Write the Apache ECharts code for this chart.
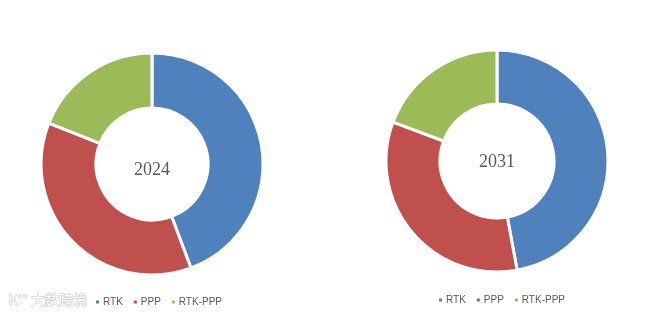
<!DOCTYPE html>
<html>
<head>
<meta charset="utf-8">
<script src="https://cdn.jsdelivr.net/npm/echarts@6/dist/echarts.min.js"></script>
<style>
html,body{margin:0;padding:0;background:#fff;}
#c{width:649px;height:322px;}
</style>
</head>
<body>
<div id="c"></div>
<script>
var categories = ['RTK', 'PPP', 'RTK-PPP'];
var years = ['2024', '2031'];
var values2024 = [44.3, 36.7, 19.0];
var values2031 = [47.1, 33.6, 19.3];
var colors = ['#4F81BD', '#C0504D', '#9BBB59'];

function mk(vals) {
  return categories.map(function (c, i) { return { name: c, value: vals[i] }; });
}

var chart = echarts.init(document.getElementById('c'));
var legendCommon = {
  data: categories,
  icon: 'rect',
  itemWidth: 5,
  itemHeight: 5,
  itemGap: 9,
  selectedMode: false,
  textStyle: { fontSize: 10, color: '#595959', fontFamily: 'Liberation Sans', padding: [0, 0, 0, -2] }
};
chart.setOption({
  animation: false,
  color: colors,
  legend: [
    Object.assign({ left: 89, top: 292 }, legendCommon),
    Object.assign({ left: 432, top: 290 }, legendCommon)
  ],
  graphic: [
    { type: 'text', left: 8, top: 292, style: { text: 'K°° 大数跨境', fontSize: 14, fill: '#fff', stroke: '#c8c8c8', lineWidth: 1, fontFamily: 'Noto Sans CJK SC' } },
    { type: 'text', x: 152, y: 170, style: { text: years[0], fontSize: 18, fill: '#595959', fontFamily: 'Liberation Serif', align: 'center', verticalAlign: 'middle' } },
    { type: 'text', x: 497, y: 162, style: { text: years[1], fontSize: 18, fill: '#595959', fontFamily: 'Liberation Serif', align: 'center', verticalAlign: 'middle' } }
  ],
  series: [
    {
      type: 'pie', name: years[0], center: [152, 164], radius: [56, 111],
      startAngle: 90, clockwise: true,
      label: { show: false }, labelLine: { show: false },
      itemStyle: { borderColor: '#fff', borderWidth: 3 },
      emphasis: { disabled: true },
      data: mk(values2024)
    },
    {
      type: 'pie', name: years[1], center: [497, 161], radius: [57, 111],
      startAngle: 90, clockwise: true,
      label: { show: false }, labelLine: { show: false },
      itemStyle: { borderColor: '#fff', borderWidth: 3 },
      emphasis: { disabled: true },
      data: mk(values2031)
    }
  ]
});
</script>
</body>
</html>
